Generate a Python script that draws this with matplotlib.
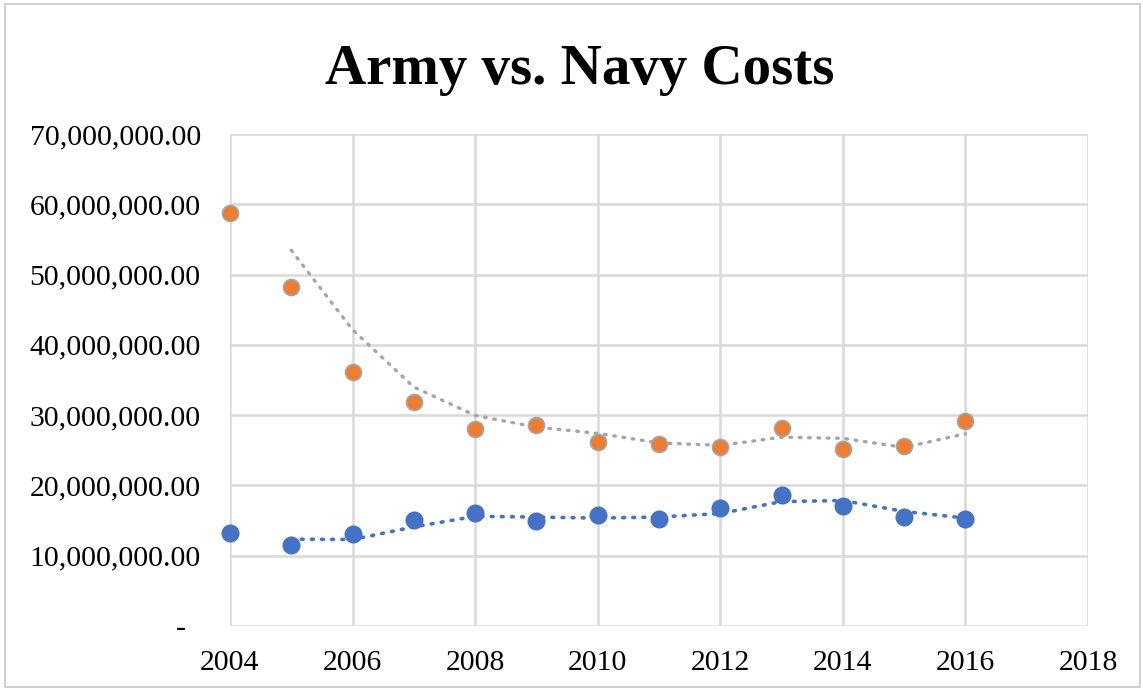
import matplotlib
matplotlib.use("Agg")
import matplotlib.pyplot as plt
import pandas as pd
from matplotlib.patches import Rectangle
from matplotlib.ticker import FuncFormatter

years = [2004, 2005, 2006, 2007, 2008, 2009, 2010, 2011, 2012, 2013, 2014, 2015, 2016]
navy = [58.7, 48.2, 36.1, 31.9, 28.0, 28.6, 26.2, 25.9, 25.5, 28.2, 25.2, 25.6, 29.1]
army = [13.2, 11.5, 13.1, 15.1, 16.1, 14.9, 15.8, 15.2, 16.8, 18.6, 17.1, 15.5, 15.2]
navy = [v * 1e6 for v in navy]
army = [v * 1e6 for v in army]

plt.rcParams['font.family'] = ['Liberation Serif', 'DejaVu Serif']

fig = plt.figure(figsize=(11.43, 6.91), dpi=100)
ax = fig.add_axes([0.2012, 0.0941, 0.7507, 0.712])

# two-period moving average trendlines
navy_ma = pd.Series(navy, index=years).rolling(2).mean()
army_ma = pd.Series(army, index=years).rolling(2).mean()
ax.plot(navy_ma.index, navy_ma.values, color='#a5a5a5', lw=2.4,
        linestyle=(0, (0.5, 2.3)), dash_capstyle='round', zorder=3)
ax.plot(army_ma.index, army_ma.values, color='#4472c4', lw=2.6,
        linestyle=(0, (0.5, 2.3)), dash_capstyle='round', zorder=3)

ax.plot(years, navy, 'o', color='#ed7d31', markersize=11.5,
        markeredgecolor='#a5a5a5', markeredgewidth=1.2, zorder=4, clip_on=False)
ax.plot(years, army, 'o', color='#4472c4', markersize=13,
        markeredgewidth=0, zorder=4, clip_on=False)

ax.set_xlim(2004, 2018)
ax.set_ylim(0, 70e6)
ax.set_xticks(range(2004, 2019, 2))
ax.set_yticks([i * 10e6 for i in range(8)])
ax.yaxis.set_major_formatter(FuncFormatter(lambda v, p: '-  ' if v == 0 else f'{v:,.2f}'))
ax.tick_params(axis='both', length=0, labelsize=21.4, colors='black')
ax.tick_params(axis='y', pad=21)
ax.tick_params(axis='x', pad=17)
ax.grid(True, color='#d9d9d9', lw=1.8)
ax.set_axisbelow(True)
for s in ax.spines.values():
    s.set_visible(False)

fig.text(0.507, 0.899, 'Army vs. Navy Costs', ha='center', va='center',
         fontsize=41, fontweight='bold')

fig.patches.append(Rectangle((0.004, 0.006), 0.993, 0.988, transform=fig.transFigure,
                             fill=False, edgecolor='#c8c8c8', lw=1.2))

fig.savefig('out.png', dpi=100)
